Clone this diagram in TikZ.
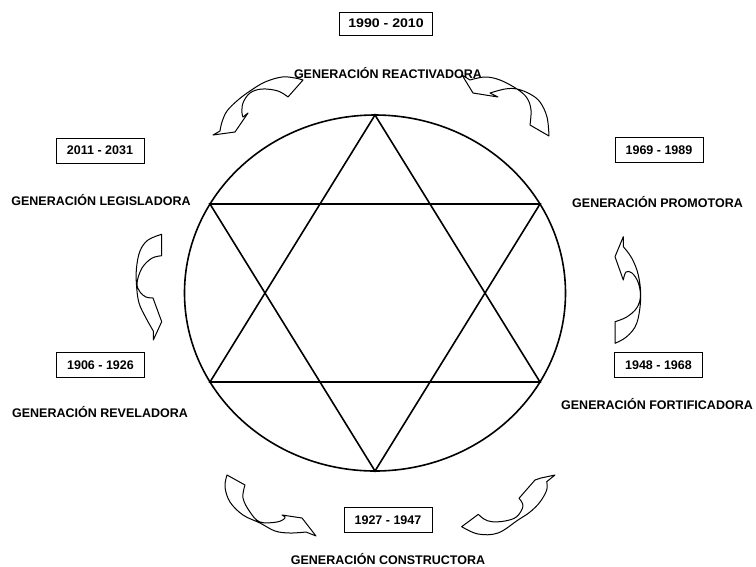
\documentclass[tikz,border=0pt]{standalone}
\usepackage{fontspec}
\usepackage{graphicx}
\setmainfont{Liberation Sans}
\begin{document}
\begin{tikzpicture}[x=1pt,y=-1pt,
  lbl/.style={font=\bfseries\fontsize{12.5}{15}\selectfont, inner sep=0pt, anchor=base},
  datebox/.style={draw, line width=1pt, font=\bfseries\fontsize{12.5}{15}\selectfont,
    minimum width=88pt, minimum height=25pt, inner sep=0pt},
  geo/.style={line width=1.6pt},
  curvarrow/.style={draw=black, fill=white, line width=1pt, line join=round}]
\useasboundingbox (0,0) rectangle (756,566);

% circle and star
\coordinate (ctr) at (375,293);
\draw[geo] (ctr) ellipse [x radius=190.5, y radius=178];
\coordinate (u1) at (375,115);
\coordinate (u2) at (540,382);
\coordinate (u3) at (210,382);
\coordinate (d1) at (210,204);
\coordinate (d2) at (540,204);
\coordinate (d3) at (375,471);
\draw[geo, line join=miter] (u1) -- (u2) -- (u3) -- cycle;
\draw[geo, line join=miter] (d1) -- (d2) -- (d3) -- cycle;

% date boxes
\node[datebox, minimum width=93pt, minimum height=23pt] (b1990) at (386,23.5) {\scalebox{1.13}[1]{1990 - 2010}};
\node[datebox] (b2011) at (100,150.5) {2011 - 2031};
\node[datebox] (b1969) at (659,150.3) {1969 - 1989};
\node[datebox] (b1906) at (100.5,365) {1906 - 1926};
\node[datebox] (b1948) at (658.5,365) {1948 - 1968};
\node[datebox] (b1927) at (388,519.8) {1927 - 1947};

% labels
\node[lbl] (lreact) at (388,78.5) {GENERACIÓN REACTIVADORA};
\node[lbl] (llegis) at (101,205.5) {GENERACIÓN LEGISLADORA};
\node[lbl] (lpromo) at (657.5,207) {GENERACIÓN PROMOTORA};
\node[lbl] (lrevel) at (100,417.5) {GENERACIÓN REVELADORA};
\node[lbl] (lforti) at (657,409.5) {GENERACIÓN FORTIFICADORA};
\node[lbl] (lconst) at (388,564.5) {GENERACIÓN CONSTRUCTORA};

% curved block arrows
% top-left
\draw[curvarrow] (303,80) -- (288,97)
  -- plot[smooth, tension=0.6] coordinates {(288,97) (278,91) (262,89) (250,93) (243,103) (242,113) (243,117)}
  -- (248,113) -- (235,132) -- (213,135) -- (220,131)
  -- plot[smooth, tension=0.6] coordinates {(220,131) (222,122) (227,111) (238,100) (250,91) (265,82) (282,77) (295,78) (303,80)}
  -- cycle;
% top-right
\draw[curvarrow] (462,75) -- (473,93) -- (498,97) -- (490,93)
  -- plot[smooth, tension=0.6] coordinates {(490,93) (505,89) (517,89) (530,94) (540,102) (547,117) (549,136)}
  -- (530,125)
  -- plot[smooth, tension=0.6] coordinates {(530,125) (531,110) (527,98) (517,89) (500,80) (485,77) (470,80)}
  -- cycle;
% left
\draw[curvarrow] (161.7,234.3) -- (161.7,255.7)
  -- plot[smooth, tension=0.6] coordinates {(161.7,255.7) (151.7,258.3) (142,268) (137,283) (140,292) (146,297) (153,298)}
  -- (161.7,321.7) -- (153.3,340) -- (153.3,331)
  -- plot[smooth, tension=0.6] coordinates {(153.3,331) (146,318) (139,303) (136.5,285) (136.5,268) (140,251) (148,240) (161.7,234.3)}
  -- cycle;
% right
\draw[curvarrow] (615,343.3) 
  -- plot[smooth, tension=0.6] coordinates {(615,343.3) (626.7,336.7) (636.7,323.3) (640.7,298) (638.3,275) (631.7,258) (623.3,246.7)}
  -- (623.3,236.7) -- (615,256.7) -- (623.3,280)
  -- plot[smooth, tension=0.6] coordinates {(623.3,280) (626,272) (632,273) (638,282) (640.5,296) (636.7,308) (626.7,317) (615,321.7)}
  -- cycle;
% bottom-left
\draw[curvarrow] (227,475) -- (245,485)
  -- plot[smooth, tension=0.6] coordinates {(245,485) (243,498) (250,512) (260,522) (277,522) (285,518) (282,515)}
  -- (302,518) -- (316,536) -- (306,532)
  -- plot[smooth, tension=0.6] coordinates {(306,532) (290,533) (275,531) (260,523) (243,515) (230,502) (225,487) (227,475)}
  -- cycle;
% bottom-right
\draw[curvarrow] (461.7,526.7) -- (478.3,514.3)
  -- plot[smooth, tension=0.6] coordinates {(478.3,514.3) (484,519) (491.7,521.7) (505,521) (516.7,516.7) (523,506) (519,498.3)}
  -- (535,480) -- (541,478) -- (555,475) -- (546.7,481.7)
  -- plot[smooth, tension=0.6] coordinates {(546.7,481.7) (546.7,490) (540,502) (530,512) (518,520) (498,533) (478,534) (461.7,526.7)}
  -- cycle;
\end{tikzpicture}
\end{document}
